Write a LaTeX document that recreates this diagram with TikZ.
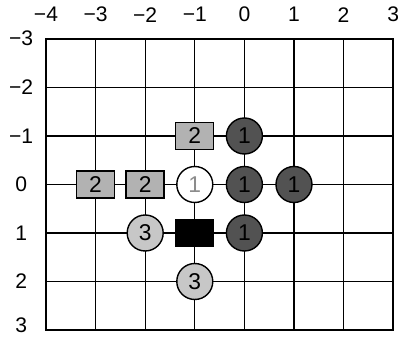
\documentclass[tikz,border=0pt]{standalone}
\usepackage{fontspec}
\setmainfont{Liberation Sans}
\usepackage{tikz}
\usetikzlibrary{shapes.geometric, positioning}
\tikzstyle{sq} = [rectangle, minimum width=0.76cm, minimum height=0.54cm, inner sep=0pt, draw=black, line width=0.8pt, fill=black!30, font=\fontsize{13}{15}\selectfont]
\tikzstyle{lite} = [circle, minimum size=0.72cm, inner sep=0pt, draw=black, line width=0.8pt, fill=black!22, font=\fontsize{13}{15}\selectfont]
\tikzstyle{dark} = [lite, fill=black!68]
\tikzstyle{axis} = [font=\fontsize{12}{14}\selectfont, inner sep=0pt]

\begin{document}
\begin{tikzpicture}[xscale=0.992, yscale=-0.97]
  \useasboundingbox (-4.927,-3.804) rectangle (3.097,3.124);
  % Board
  \draw[line width=0.7pt] (-4,-3) grid (3,3);
  \draw[line width=0.9pt] (-4,-3) rectangle (3,3);

  % Column numbers
  \node[axis] (xa) at (-4,-3.5) {−4};
  \node[axis] (xb) at (-3,-3.5) {−3};
  \node[axis] (xc) at (-2,-3.5) {−2};
  \node[axis] (xd) at (-1,-3.5) {−1};
  \node[axis] (xe) at (0,-3.5) {0};
  \node[axis] (xf) at (1,-3.5) {1};
  \node[axis] (xg) at (2,-3.5) {2};
  \node[axis] (xh) at (3,-3.5) {3};
  % Row numbers
  \node[axis] (ya) at (-4.5,-3.02) {−3};
  \node[axis] (yb) at (-4.5,-2) {−2};
  \node[axis] (yc) at (-4.5,-1) {−1};
  \node[axis] (yd) at (-4.5,0) {0};
  \node[axis] (ye) at (-4.5,1) {1};
  \node[axis] (yf) at (-4.5,2) {2};
  \node[axis] (yg) at (-4.5,2.9) {3};

  % Pieces
  \node[sq] (sqa) at (-1,-1) {2};
  \node[dark] (dka) at (0,-1) {1};
  \node[sq] (sqb) at (-3,0) {2};
  \node[sq] (sqc) at (-2,0) {2};
  \node[lite, fill=white, text=black!45] (wht) at (-1,0) {1};
  \node[dark] (dkb) at (0,0) {1};
  \node[dark] (dkc) at (1,0) {1};
  \node[lite] (lta) at (-2,1) {3};
  \node[sq, fill=black] (blk) at (-1,1) {};
  \node[dark] (dkd) at (0,1) {1};
  \node[lite] (ltb) at (-1,2) {3};
\end{tikzpicture}
\end{document}
